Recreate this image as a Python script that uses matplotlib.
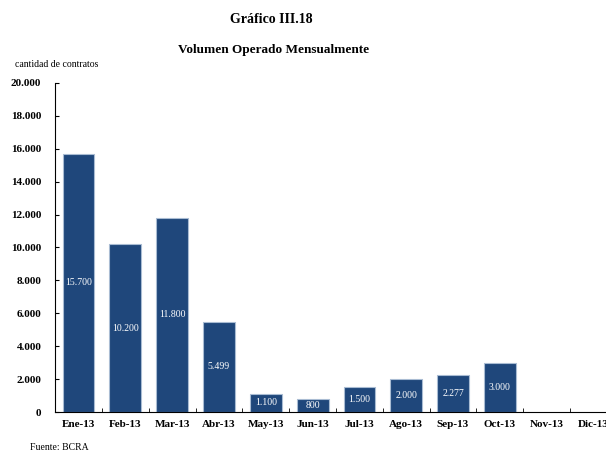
import matplotlib.pyplot as plt
from matplotlib.ticker import FuncFormatter

months = ["Ene-13", "Feb-13", "Mar-13", "Abr-13", "May-13", "Jun-13",
          "Jul-13", "Ago-13", "Sep-13", "Oct-13", "Nov-13", "Dic-13"]
volumes = [15700, 10200, 11800, 5499, 1100, 800, 1500, 2000, 2277, 3000]
y_ticks = [0, 2000, 4000, 6000, 8000, 10000, 12000, 14000, 16000, 18000, 20000]

plt.rcParams["font.family"] = ["Liberation Serif", "DejaVu Serif"]


def miles(v, pos=None):
    return f"{int(v):,}".replace(",", ".")


fig = plt.figure(figsize=(6.06, 4.53), dpi=100)
ax = fig.add_axes([0.091, 0.0905, 0.927, 0.7263])

x = list(range(len(volumes)))
bars = ax.bar(x, volumes, width=0.68, color="#1F477B",
              edgecolor="#A9BCD3", linewidth=0.8, zorder=2)

for b, v in zip(bars, volumes):
    ax.text(b.get_x() + b.get_width() / 2, v / 2, miles(v),
            ha="center", va="center", color="white", fontsize=7)

ax.set_xlim(-0.5, len(months) - 0.5)
ax.set_ylim(0, 20000)
ax.set_yticks(y_ticks)
ax.yaxis.set_major_formatter(FuncFormatter(miles))

# month labels centred, tick marks between categories
ax.set_xticks(range(len(months)))
ax.set_xticklabels(months, fontsize=8, fontweight="bold")
ax.set_xticks([i + 0.5 for i in range(len(months))], minor=True)
ax.tick_params(axis="x", which="major", length=0, pad=6)
ax.tick_params(axis="x", which="minor", direction="in", length=3)
ax.tick_params(axis="y", direction="in", length=3, labelsize=8, pad=10)
for lbl in ax.get_yticklabels():
    lbl.set_fontweight("bold")

for side in ["top", "right"]:
    ax.spines[side].set_visible(False)

fig.text(0.448, 0.95, "Gráfico III.18", ha="center", fontsize=10,
         fontweight="bold")
fig.text(0.452, 0.884, "Volumen Operado Mensualmente", ha="center",
         fontsize=9.5, fontweight="bold")
fig.text(0.025, 0.852, "cantidad de contratos", fontsize=7)
fig.text(0.05, 0.002, "Fuente: BCRA", fontsize=7, va="bottom")

fig.savefig("out.png", dpi=100)
